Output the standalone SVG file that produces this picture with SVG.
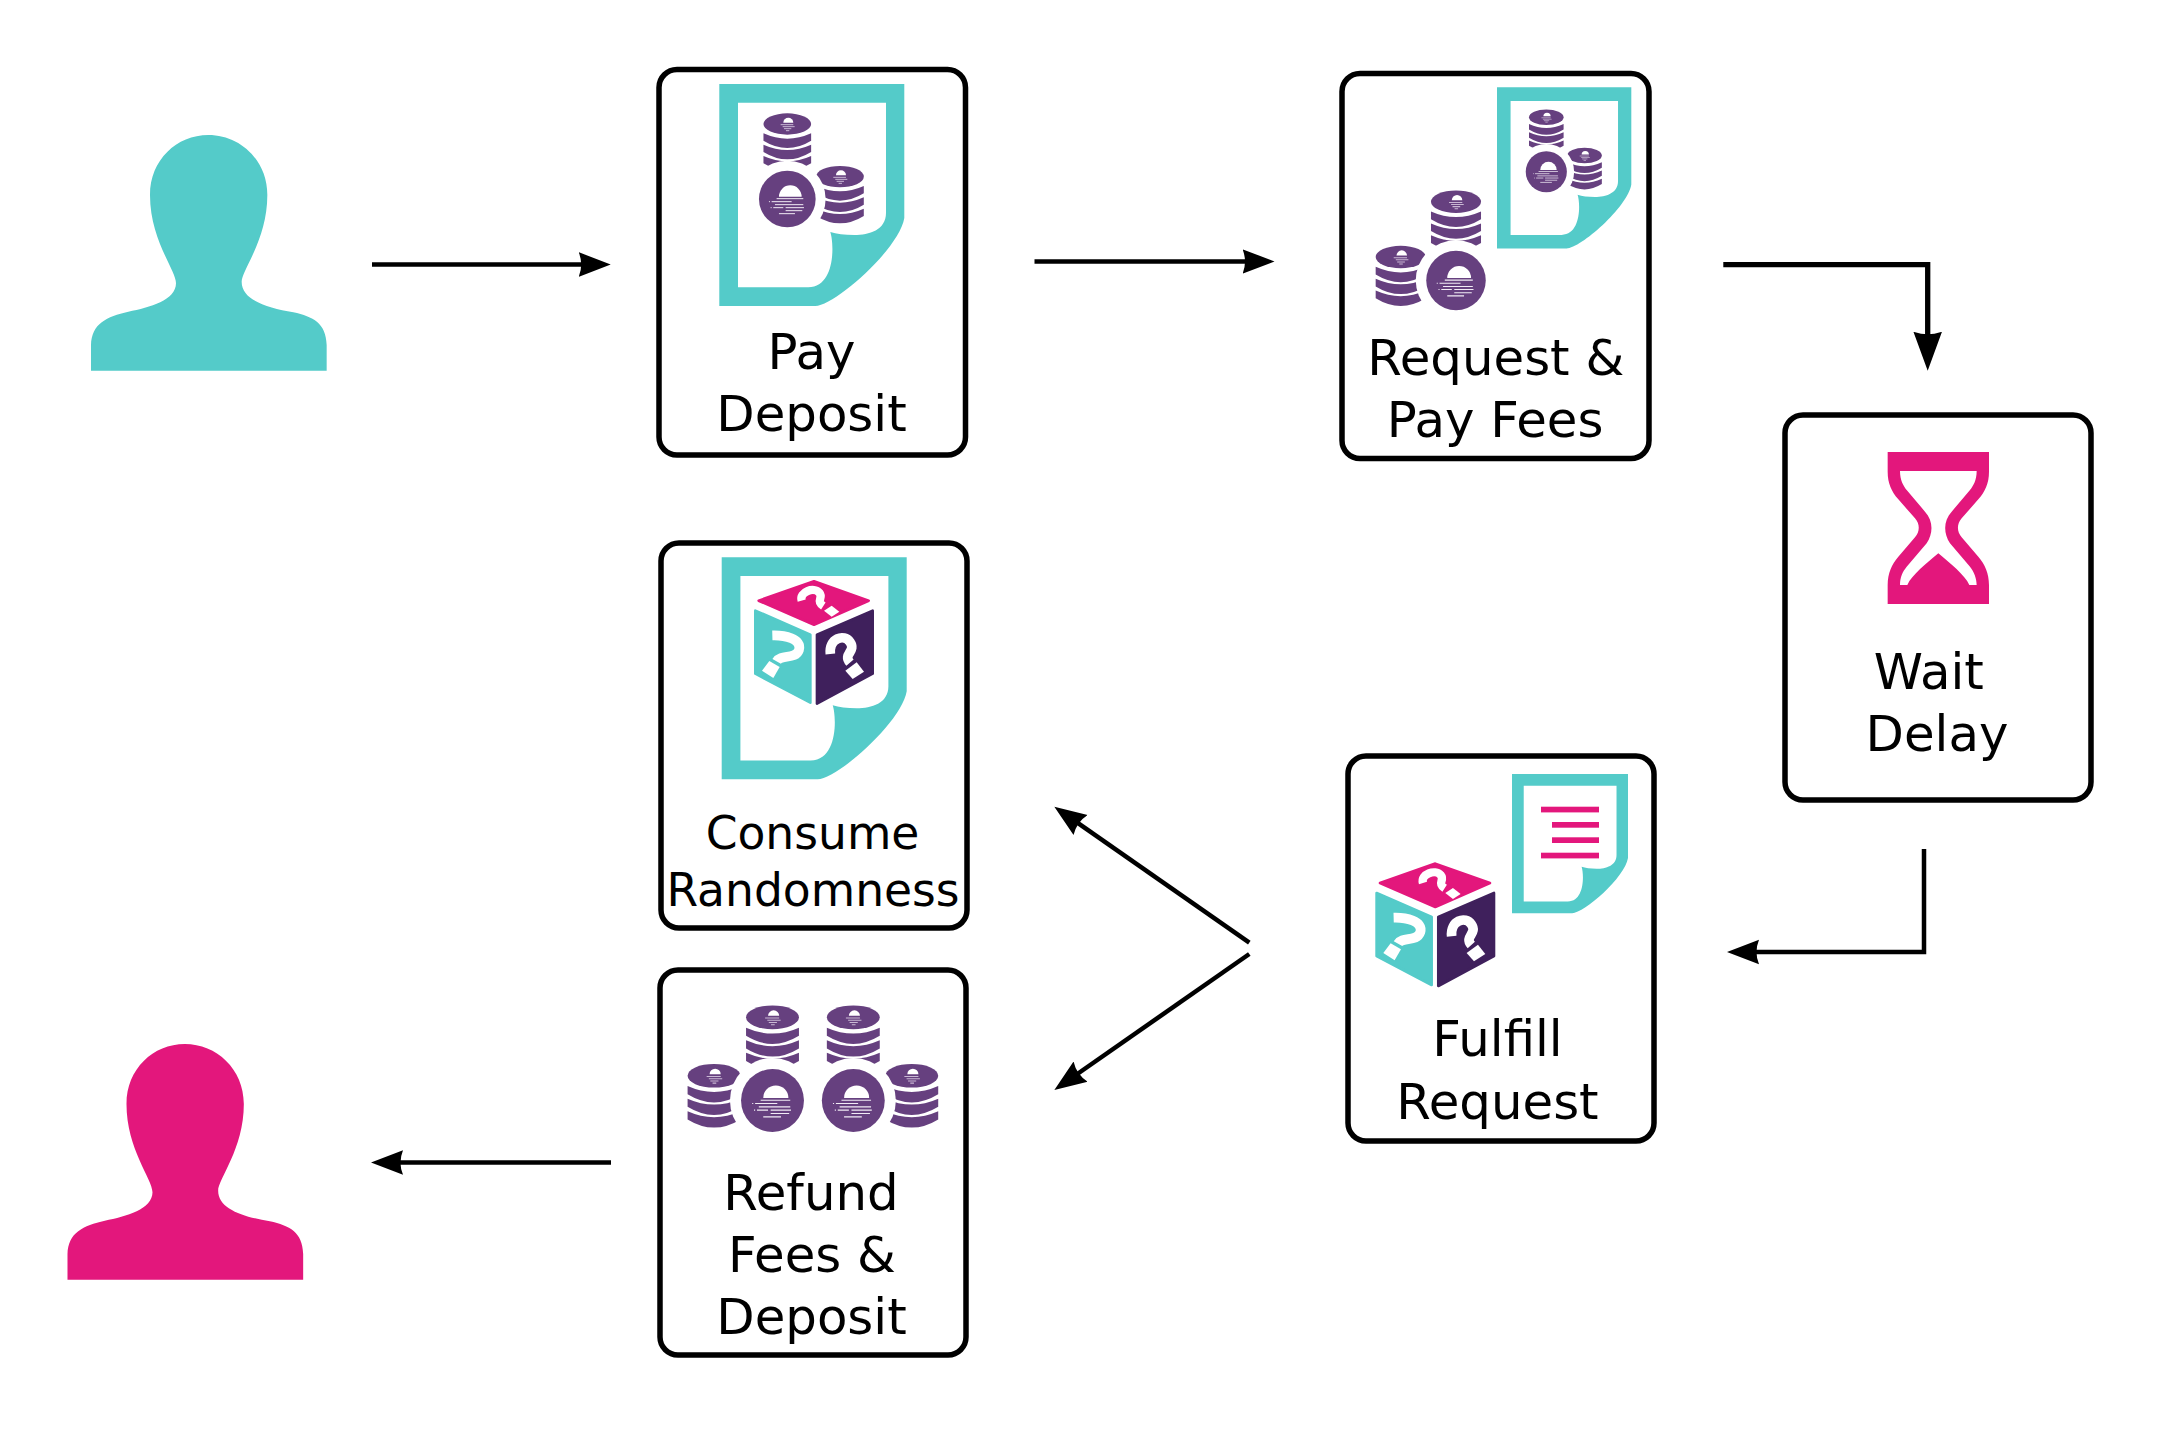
<svg xmlns="http://www.w3.org/2000/svg" width="2162" height="1443" viewBox="0 0 2162 1443">
<style>
.box{fill:#fff;stroke:#000;stroke-width:5.5}
.lbl{font-family:"DejaVu Sans",sans-serif;font-size:49.8px;fill:#000;text-anchor:middle}
.teal{fill:#54cbc9}.pink{fill:#e3177c}.dark{fill:#3f205c}.pur{fill:#66407f}
.wire{fill:none;stroke:#000;stroke-width:4.5}
.sm{fill:none;stroke:#c9b8d4;stroke-width:3}
.wl{fill:none;stroke:#f1ebf5;stroke-width:3}
.q{fill:none;stroke:#fff;stroke-width:29}
</style>
<defs>
<marker id="arrow" markerUnits="userSpaceOnUse" markerWidth="34" markerHeight="28" viewBox="0 -14 34 28" refX="4" refY="0" orient="auto"><path d="M0,-12.3L32,0L0,12.3Q5,0 0,-12.3Z"/></marker>
<marker id="arrow-lg" markerUnits="userSpaceOnUse" markerWidth="41" markerHeight="32" viewBox="0 -16 41 32" refX="4" refY="0" orient="auto"><path d="M0,-14.3L39,0L0,14.3Q5,0 0,-14.3Z"/></marker>
<path id="person" d="M93,782V705C95,640 140,620 205,605C270,593 348,570 348,520C348,480 270,390 270,255C270,150 350,75 445,75C540,75 622,150 622,255C622,390 545,480 545,515C545,570 620,593 700,607C760,620 798,640 800,705V782Z"/>
<path id="doc" class="teal" fill-rule="evenodd" d="M0,0H185V134C180,165 115,222 96,222H0ZM18.7,18.7V203.3H89C116,203 115,160 111,148C117,150 125,151 135,151C150,151 166.7,146 166.7,129V18.7Z"/>
<g id="stack">
<ellipse class="pur" cx="0" cy="0" rx="71.5" ry="32"/>
<path fill="#fff" d="M-12,-4A15,15 0 0 1 18,-4Z"/>
<path class="sm" d="M-20,2H18M-14,8H22M-10,14H12M-4,20H6"/>
<path class="pur" d="M-71.5,28Q0,60 71.5,28V50Q0,94 -71.5,50ZM-71.5,62Q0,94 71.5,62V84Q0,128 -71.5,84ZM-71.5,96Q0,128 71.5,96V118Q0,162 -71.5,118Z"/>
</g>
<g id="coin">
<circle r="115" fill="#fff"/>
<circle class="pur" r="85"/>
<path fill="#fff" d="M-25,-7A34,34 0 0 1 43,-7Z"/>
<path class="wl" d="M-32,-1H48M-55,8H-52M-47,8H13M-37,17H48M-50,26H-47M-42,26H-12M-5,26H50M-5,35H45M-25,44H23"/>
</g>
<g id="coins-r"><use href="#stack"/><use href="#stack" x="158" y="158"/><use href="#coin" y="225"/></g>
<g id="coins-l"><use href="#stack"/><use href="#stack" x="-158" y="158"/><use href="#coin" y="225"/></g>
<g id="cube">
<g stroke-width="8" stroke-linejoin="round">
<path class="pink" stroke="#e3177c" d="M0,4L164,62L0,134L-166,62Z"/>
<path class="teal" stroke="#54cbc9" d="M-176,92L-11,164V368L-176,281Z"/>
<path class="dark" stroke="#3f205c" d="M9,164L176,92V281L9,371Z"/>
</g>
<path class="q" d="M-125,166C-90,165 -35,175 -45,210C-55,240 -100,222 -112,244"/>
<path fill="#fff" d="M-156,272L-134,243L-103,261L-122,294Z"/>
<path class="q" d="M49,222C44,175 90,160 108,186C128,215 85,222 108,248"/>
<path fill="#fff" d="M94,272L128,247L150,275L116,297Z"/>
<path class="q" style="stroke-width:25" d="M-37,62C-45,35 0,20 16,38C30,55 3,62 28,78"/>
<path fill="#fff" d="M30,92L53,77L76,95L53,110Z"/>
</g>
</defs>
<rect width="2162" height="1443" fill="#fff"/>
<g id="connectors">
<path class="wire" marker-end="url(#arrow)" d="M372,264.5H582.7"/>
<path class="wire" marker-end="url(#arrow)" d="M1034.5,261.5H1246.5"/>
<path class="wire" style="stroke-width:5.3" marker-end="url(#arrow-lg)" d="M1723.3,264.7H1927.7V335.7"/>
<path class="wire" marker-end="url(#arrow)" d="M1924,849V952H1755"/>
<path class="wire" marker-end="url(#arrow)" d="M1249.3,942.7L1077.3,822.7"/>
<path class="wire" marker-end="url(#arrow)" d="M1249.3,954L1077.3,1074"/>
<path class="wire" marker-end="url(#arrow)" d="M611,1162.5H399"/>
</g>
<g id="user-start"><use href="#person" class="teal" transform="translate(60 110) scale(.33333)"/></g>
<g id="user-end"><use href="#person" class="pink" transform="translate(36.5 1019) scale(.33333)"/></g>
<g id="node-pay-deposit">
<rect class="box" x="659" y="69.5" width="306.5" height="385.5" rx="18"/>
<use href="#doc" transform="translate(719.3 84)"/>
<use href="#coins-r" transform="translate(787.3 124) scale(.33333)"/>
<text class="lbl" x="811.5" y="368.8">Pay</text>
<text class="lbl" x="811.5" y="431">Deposit</text>
</g>
<g id="node-request">
<rect class="box" x="1342" y="73.5" width="307" height="385" rx="18"/>
<use href="#doc" transform="translate(1497 87.3) scale(.726)"/>
<use href="#coins-r" transform="translate(1546.3 117.3) scale(.242)"/>
<use href="#coins-l" transform="translate(1456 201.7) scale(.35)"/>
<text class="lbl" x="1495.8" y="375">Request &amp;</text>
<text class="lbl" x="1495" y="437">Pay Fees</text>
</g>
<g id="node-wait">
<rect class="box" x="1785" y="415" width="306" height="385" rx="18"/>
<path class="pink" fill-rule="evenodd" transform="translate(1780 400) scale(.33333)" d="M323,156H627V215C627,250 615,275 595,298L545,355C530,372 530,395 545,412L595,470C615,493 627,520 627,555V612H323V555C323,520 335,493 355,470L405,412C420,395 420,372 405,355L355,298C335,275 323,250 323,215ZM360,213C360,240 370,258 380,270L435,335C460,362 460,400 440,430L380,500C368,515 360,530 360,555H382C395,525 440,490 475,460C510,490 555,525 568,555H590C590,535 582,515 570,500L510,430C490,400 490,362 515,335L570,270C580,258 590,240 590,213Z"/>
<text class="lbl" x="1928.8" y="689">Wait</text>
<text class="lbl" x="1937" y="751">Delay</text>
</g>
<g id="node-fulfill">
<rect class="box" x="1348" y="756" width="306" height="385" rx="18"/>
<use href="#doc" transform="translate(1512 774) scale(.627)"/>
<g class="pink"><rect x="1541" y="806.7" width="58" height="5.7"/><rect x="1552" y="822" width="47" height="5.7"/><rect x="1552" y="837.3" width="47" height="5.7"/><rect x="1541" y="852.7" width="58" height="5.7"/></g>
<use href="#cube" transform="translate(1435.3 862.3) scale(.33333)"/>
<text class="lbl" x="1497.5" y="1056">Fulfill</text>
<text class="lbl" x="1497.5" y="1119">Request</text>
</g>
<g id="node-consume">
<rect class="box" x="661" y="543" width="306" height="385" rx="18"/>
<use href="#doc" transform="translate(721.7 557.3)"/>
<use href="#cube" transform="translate(814 580) scale(.33333)"/>
<text class="lbl" x="812.5" y="848.5" style="font-size:45.6px">Consume</text>
<text class="lbl" x="813" y="905.5" style="font-size:45.6px">Randomness</text>
</g>
<g id="node-refund">
<rect class="box" x="660" y="970" width="306" height="385" rx="18"/>
<use href="#coins-l" transform="translate(772.5 1017.3) scale(.37)"/>
<use href="#coins-r" transform="translate(853.3 1017.3) scale(.37)"/>
<text class="lbl" x="811" y="1209.5">Refund</text>
<text class="lbl" x="812" y="1271.5">Fees &amp;</text>
<text class="lbl" x="811.5" y="1334">Deposit</text>
</g>
</svg>
